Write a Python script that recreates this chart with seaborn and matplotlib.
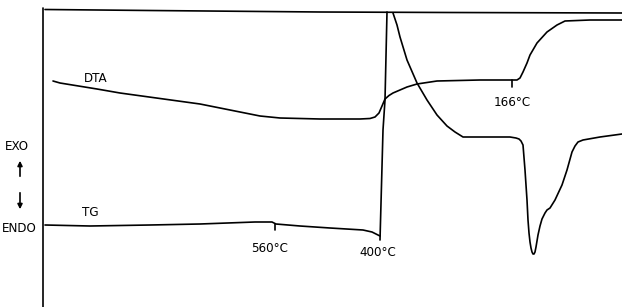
#!/usr/bin/env python3
"""Redraw of a DTA / TG thermogram (heating and cooling runs)."""

import matplotlib
matplotlib.use("Agg")
import pandas as pd
import seaborn as sns
from matplotlib import pyplot as plt
from matplotlib import font_manager

# Trace coordinates (chart units, y grows downward)
frame_top_x = [45, 150, 320, 450, 622]
frame_top_y = [9.5, 10.5, 12, 12.5, 13]

frame_left_x = [43, 43]
frame_left_y = [8, 307]

dta_x = [53, 60, 97, 120, 200, 260, 280, 320, 360, 370, 375, 379, 382, 385,
         389, 393, 400, 407, 417, 427, 437, 480, 512, 517, 520, 523, 527,
         530, 537, 547, 557, 565, 590, 622]
dta_y = [81, 83, 89, 93, 104, 116, 118, 119, 119, 118.5, 117, 113, 106, 99,
         95.5, 93, 90, 87, 84, 82.5, 81, 80, 80, 80, 78, 72, 63,
         55, 43, 32, 25, 21, 20, 20]

cool_x = [393, 397, 400, 407, 417, 427, 437, 447, 455, 463, 480, 510, 516,
          519, 521, 523, 525, 527, 528, 529, 530, 531, 532, 533, 534, 535,
          536, 538, 540, 542, 545, 547, 550, 555, 562, 567, 572, 575, 578,
          583, 600, 622]
cool_y = [13, 25, 37, 60, 83, 100, 115, 126, 132, 137, 137, 137, 138,
          139, 141, 145, 170, 200, 220, 233, 242, 248, 252, 254, 254, 252,
          247, 235, 226, 219, 213, 210, 208, 200, 185, 170, 152, 146, 142,
          140, 137, 134]

tg_x = [45, 90, 150, 200, 255, 272, 276, 300, 330, 363, 372, 380]
tg_y = [225, 226, 225, 224, 222, 222, 224, 226, 228, 230, 232, 236]

jump_x = [380, 383, 385, 387]
jump_y = [240, 130, 100, 12]

tick_560_x = [275, 275]
tick_560_y = [224, 230]
tick_166_x = [512, 512]
tick_166_y = [80, 87]

# Text labels: (text, x, y)
labels = [
    ("DTA", 96, 79),
    ("TG", 90, 212),
    ("560°C", 270, 248),
    ("400°C", 378, 252),
    ("166°C", 512, 102),
    ("EXO", 17, 146),
    ("ENDO", 19, 228),
]

sns.set_theme(style="white")
plt.rcParams["font.family"] = ["DejaVu Sans"]

# Narrow face if the condensed DejaVu file is installed
condensed = [f.fname for f in font_manager.fontManager.ttflist
             if "Condensed" in f.fname and "DejaVuSans" in f.fname
             and "Bold" not in f.fname and "Oblique" not in f.fname]
if condensed:
    font_kw = {"fontproperties": font_manager.FontProperties(
        fname=condensed[0], size=9.5)}
else:
    font_kw = {"fontsize": 8.5}

fig = plt.figure(figsize=(6.22, 3.07), dpi=100)
ax = fig.add_axes([0, 0, 1, 1])

traces = [
    (frame_top_x, frame_top_y),
    (frame_left_x, frame_left_y),
    (dta_x, dta_y),
    (cool_x, cool_y),
    (tg_x, tg_y),
    (jump_x, jump_y),
    (tick_560_x, tick_560_y),
    (tick_166_x, tick_166_y),
]
for xs, ys in traces:
    df = pd.DataFrame({"x": xs, "y": ys})
    sns.lineplot(data=df, x="x", y="y", ax=ax, color="black",
                 linewidth=1.2, sort=False, estimator=None)

for text, x, y in labels:
    ax.text(x, y, text, ha="center", va="center", color="black", **font_kw)

# EXO / ENDO arrows
ax.annotate("", xy=(20, 158), xytext=(20, 179),
            arrowprops=dict(arrowstyle="-|>", color="black", lw=1.2,
                            mutation_scale=7))
ax.annotate("", xy=(20, 212), xytext=(20, 190),
            arrowprops=dict(arrowstyle="-|>", color="black", lw=1.2,
                            mutation_scale=7))

ax.set_xlim(0, 622)
ax.set_ylim(307, 0)
ax.axis("off")

fig.savefig("out.png", dpi=100)
plt.close(fig)
